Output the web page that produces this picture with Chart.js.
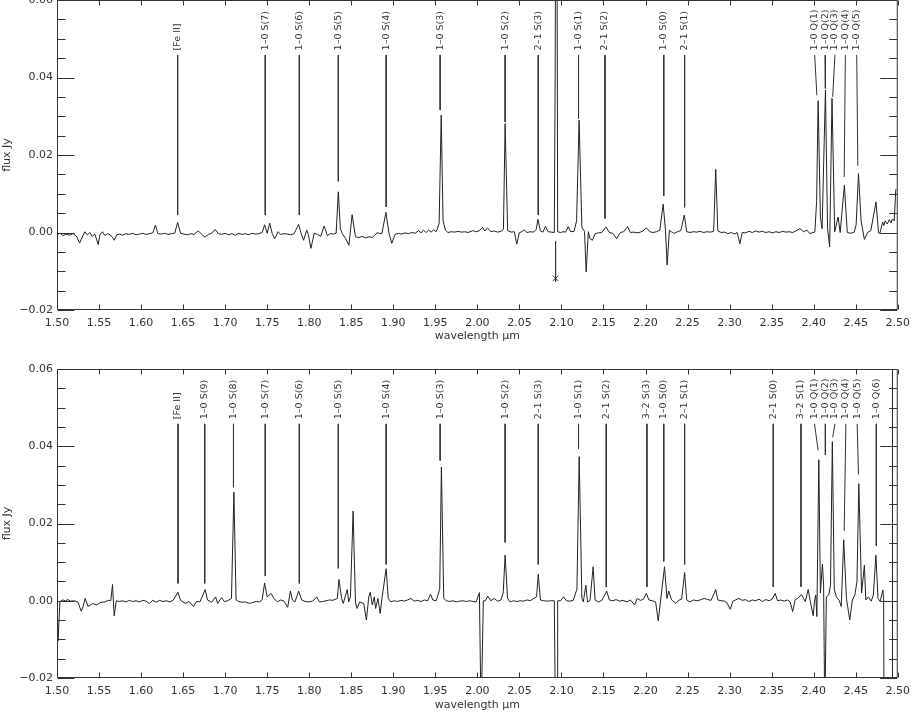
<!DOCTYPE html>
<html>
<head>
<meta charset="utf-8">
<script src="https://cdn.jsdelivr.net/npm/chart.js@4.4.1/dist/chart.umd.min.js"></script>
<style>
  html, body { margin: 0; padding: 0; background: #fff; }
  #wrap { position: relative; width: 917px; height: 712px; overflow: hidden; background: #fff; }
  canvas { position: absolute; left: 0; }
  #top { top: -14px; }
  #bot { top: 355px; }
</style>
</head>
<body>
<div id="wrap">
  <canvas id="top" width="917" height="357"></canvas>
  <canvas id="bot" width="917" height="357"></canvas>
</div>
<script>
// ---------------- axis ranges / tick labels ----------------
const xRange = [1.50, 2.50];
const yRange = [-0.02, 0.06];
const xTickStep = 0.05;
const yTickStep = 0.02;
const yMinorStep = 0.005;
const xTitle = 'wavelength \u03bcm';
const yTitle = 'flux Jy';

// ---------------- upper panel spectrum ----------------
const topWave = [
1.500,1.504,1.507,1.511,1.515,1.519,1.523,1.527,1.530,1.533,1.536,1.539,1.542,1.545,1.549,1.551,1.554,1.557,1.560,1.563,
1.566,1.568,1.571,1.574,1.578,1.582,1.586,1.590,1.594,1.598,1.602,1.606,1.610,1.614,1.617,1.620,1.624,1.628,1.632,1.636,
1.640,1.6435,1.647,1.651,1.655,1.659,1.663,1.668,1.672,1.676,1.680,1.684,1.688,1.692,1.696,1.700,1.704,1.708,1.712,1.716,
1.720,1.724,1.728,1.732,1.736,1.740,1.744,1.747,1.750,1.753,1.756,1.759,1.763,1.766,1.770,1.774,1.778,1.782,1.7874,1.790,
1.7933,1.797,1.799,1.802,1.806,1.810,1.8137,1.8177,1.8216,1.825,1.829,1.832,1.8346,1.837,1.8393,1.8432,1.8472,1.851,1.855,1.859,
1.863,1.867,1.871,1.875,1.8806,1.8864,1.8912,1.895,1.8982,1.9021,1.906,1.910,1.914,1.918,1.922,1.926,1.930,1.933,1.936,1.939,
1.942,1.945,1.948,1.951,1.9545,1.957,1.9592,1.962,1.965,1.969,1.973,1.977,1.981,1.985,1.989,1.9946,1.998,2.002,2.006,2.009,
2.012,2.016,2.020,2.024,2.028,2.031,2.033,2.036,2.040,2.044,2.0468,2.050,2.053,2.0555,2.059,2.063,2.067,2.070,2.072,2.075,
2.078,2.081,2.084,2.088,2.0915,2.0925,2.094,2.0955,2.099,2.102,2.105,2.108,2.111,2.115,2.118,2.121,2.1243,2.1274,2.1294,2.132,
2.134,2.1368,2.140,2.144,2.148,2.153,2.157,2.161,2.1656,2.170,2.174,2.1786,2.182,2.186,2.190,2.194,2.197,2.201,2.205,2.209,
2.213,2.217,2.221,2.2237,2.2257,2.2284,2.232,2.2343,2.238,2.242,2.2461,2.249,2.253,2.257,2.261,2.265,2.269,2.273,2.277,2.281,
2.2835,2.286,2.290,2.294,2.298,2.302,2.306,2.309,2.3122,2.315,2.319,2.323,2.327,2.331,2.335,2.339,2.343,2.347,2.351,2.355,
2.359,2.363,2.367,2.371,2.375,2.379,2.3837,2.388,2.392,2.3955,2.399,2.4014,2.4035,2.4053,2.408,2.410,2.414,2.4165,2.419,2.4218,
2.425,2.429,2.4315,2.4365,2.440,2.444,2.448,2.4505,2.4533,2.4564,2.4603,2.464,2.468,2.4741,2.4772,2.4788,2.482,2.4835,2.485,2.4875,
2.4899,2.492,2.4937,2.4958,2.4976,2.498
];
const topFlux = [
-0.0005,-0.0002,-0.0008,-0.0004,-0.0007,-0.0003,-0.0009,-0.0027,-0.0012,0.0002,-0.0006,0.0000,-0.0010,-0.0004,-0.0031,-0.0006,0.0002,-0.0008,-0.0003,-0.0006,
-0.0012,-0.0020,-0.0006,-0.0004,-0.0007,-0.0003,-0.0005,-0.0002,-0.0006,-0.0004,-0.0002,-0.0005,-0.0003,-0.0001,0.0019,-0.0003,-0.0004,-0.0002,-0.0005,-0.0003,
-0.0002,0.0026,-0.0002,-0.0004,-0.0006,-0.0003,-0.0005,0.0004,-0.0004,-0.0012,-0.0005,-0.0002,0.0008,-0.0003,-0.0005,-0.0002,-0.0006,-0.0003,-0.0007,-0.0002,
-0.0005,-0.0003,-0.0006,-0.0002,-0.0004,-0.0003,0.0000,0.0020,-0.0002,0.0024,-0.0003,-0.0016,0.0002,-0.0005,-0.0003,-0.0004,-0.0006,-0.0003,0.0021,0.0000,
-0.0020,0.0006,-0.0005,-0.0041,-0.0002,-0.0005,-0.0010,0.0017,-0.0008,-0.0003,-0.0004,-0.0002,0.0105,0.0010,-0.0003,-0.0015,-0.0033,0.0046,-0.0011,-0.0013,
-0.0010,-0.0014,-0.0011,-0.0013,-0.0001,-0.0003,0.0052,-0.0003,-0.0028,-0.0005,-0.0002,-0.0004,-0.0001,-0.0003,0.0000,-0.0002,0.0005,-0.0001,0.0006,0.0000,
0.0006,0.0001,0.0007,0.0002,0.0023,0.0303,0.0030,0.0006,0.0000,0.0002,0.0001,0.0003,0.0001,0.0002,0.0000,0.0005,0.0002,0.0004,0.0013,0.0004,
0.0012,0.0002,0.0004,0.0001,0.0003,0.0008,0.0281,0.0005,0.0001,0.0002,-0.0030,0.0000,0.0002,0.0007,0.0000,0.0002,0.0001,0.0008,0.0034,0.0004,
0.0001,0.0016,0.0002,0.0001,0.0000,0.0400,0.1500,0.0002,0.0000,0.0002,0.0001,0.0015,0.0002,0.0003,0.0030,0.0290,0.0013,0.0003,-0.0102,0.0002,
-0.0016,-0.0020,-0.0003,-0.0001,0.0000,0.0014,0.0000,-0.0002,-0.0016,0.0000,0.0002,0.0015,0.0000,0.0001,-0.0001,0.0001,0.0004,0.0012,0.0002,0.0000,
0.0002,0.0006,0.0073,0.0006,-0.0084,0.0006,0.0000,-0.0002,0.0002,0.0005,0.0045,0.0002,0.0000,0.0002,0.0001,0.0003,0.0000,0.0002,0.0001,0.0003,
0.0163,0.0004,0.0000,0.0001,-0.0003,0.0000,-0.0004,0.0000,-0.0029,0.0000,-0.0001,0.0003,0.0000,0.0004,0.0001,0.0003,0.0000,0.0002,-0.0001,0.0002,
0.0000,0.0003,0.0001,0.0002,0.0000,0.0004,0.0010,0.0002,0.0006,-0.0003,0.0000,0.0001,0.0080,0.0340,0.0040,0.0010,0.0367,0.0010,-0.0037,0.0346,
0.0002,0.0040,0.0000,0.0122,0.0000,-0.0002,0.0000,0.0020,0.0152,0.0030,-0.0018,0.0000,0.0005,0.0079,-0.0001,-0.0002,0.0027,0.0018,0.0030,0.0022,
0.0033,0.0025,0.0035,0.0030,0.0109,0.0112
];

// ---------------- lower panel spectrum ----------------
const botWave = [
1.5000,1.5003,1.5012,1.5035,1.507,1.510,1.513,1.516,1.5209,1.525,1.5288,1.531,1.5335,1.537,1.5425,1.547,1.5523,1.557,1.561,1.564,
1.566,1.568,1.5705,1.574,1.578,1.582,1.586,1.590,1.594,1.598,1.602,1.606,1.610,1.614,1.618,1.622,1.626,1.630,1.634,1.638,
1.6439,1.647,1.6526,1.657,1.6624,1.666,1.670,1.6762,1.679,1.684,1.6887,1.691,1.6958,1.699,1.703,1.7075,1.7104,1.713,1.716,1.720,
1.724,1.7293,1.733,1.737,1.741,1.744,1.7469,1.750,1.7547,1.758,1.762,1.766,1.770,1.7744,1.7776,1.780,1.783,1.7874,1.791,1.795,
1.800,1.804,1.809,1.812,1.816,1.820,1.824,1.828,1.8334,1.8354,1.8385,1.8405,1.8432,1.8452,1.847,1.849,1.8522,1.855,1.857,1.860,
1.8648,1.868,1.8708,1.8726,1.875,1.8774,1.879,1.8817,1.8844,1.8865,1.8915,1.894,1.897,1.901,1.905,1.909,1.913,1.917,1.921,1.925,
1.929,1.933,1.937,1.941,1.9442,1.947,1.951,1.9552,1.9572,1.960,1.963,1.967,1.971,1.975,1.979,1.983,1.987,1.991,1.995,1.9985,
2.0024,2.0044,2.0071,2.0095,2.0123,2.016,2.020,2.024,2.028,2.0307,2.033,2.0359,2.039,2.043,2.047,2.051,2.055,2.059,2.063,2.067,
2.0704,2.0724,2.075,2.079,2.083,2.087,2.0915,2.0928,2.0948,2.0955,2.099,2.1026,2.106,2.110,2.114,2.1184,2.1211,2.1243,2.126,2.129,
2.131,2.134,2.1377,2.140,2.144,2.148,2.1538,2.157,2.161,2.165,2.169,2.173,2.178,2.182,2.1871,2.190,2.194,2.1975,2.2009,2.204,
2.208,2.212,2.2151,2.218,2.2226,2.2255,2.2276,2.231,2.2363,2.240,2.243,2.2465,2.249,2.253,2.257,2.261,2.265,2.2697,2.274,2.278,
2.2835,2.286,2.290,2.294,2.297,2.3007,2.304,2.307,2.311,2.315,2.319,2.323,2.327,2.331,2.335,2.339,2.343,2.347,2.3505,2.3542,
2.357,2.361,2.365,2.369,2.372,2.375,2.378,2.381,2.3856,2.388,2.390,2.3935,2.396,2.3994,2.401,2.4025,2.4038,2.4061,2.408,2.4104,
2.4118,2.4132,2.4151,2.418,2.420,2.4222,2.4245,2.427,2.4305,2.4328,2.4357,2.439,2.4429,2.446,2.449,2.4515,2.4537,2.457,2.4603,2.462,
2.465,2.4685,2.471,2.474,2.4765,2.479,2.4823,2.4832,2.4840,2.4932,2.4937,2.5000
];
const botFlux = [
0.0000,-0.0010,-0.0104,-0.0002,0.0002,0.0000,0.0003,-0.0001,0.0000,-0.0004,-0.0027,-0.0015,0.0006,-0.0015,-0.0007,-0.0011,-0.0004,-0.0003,0.0001,0.0000,
0.0042,-0.0039,0.0000,-0.0002,0.0000,-0.0003,0.0001,-0.0002,0.0000,-0.0003,0.0001,-0.0001,-0.0007,0.0001,-0.0004,0.0001,-0.0002,0.0000,-0.0003,0.0001,
0.0022,0.0001,-0.0007,-0.0002,-0.0015,-0.0002,-0.0003,0.0029,0.0002,-0.0004,0.0010,-0.0007,0.0008,-0.0002,0.0000,0.0006,0.0281,0.0002,-0.0002,-0.0004,
-0.0003,-0.0007,-0.0004,-0.0002,-0.0003,0.0002,0.0046,0.0010,0.0019,0.0006,-0.0003,0.0002,-0.0001,-0.0017,0.0025,0.0002,-0.0003,0.0025,0.0002,-0.0002,
-0.0003,-0.0001,0.0010,-0.0003,-0.0002,0.0000,0.0002,0.0001,0.0006,0.0055,0.0006,-0.0007,0.0014,0.0029,-0.0003,0.0010,0.0232,-0.0005,-0.0020,-0.0003,
-0.0007,-0.0050,0.0010,0.0022,-0.0011,0.0010,-0.0020,0.0006,-0.0033,0.0006,0.0083,0.0006,-0.0003,0.0000,-0.0002,0.0001,-0.0001,0.0002,0.0006,-0.0001,
0.0001,-0.0002,0.0002,0.0000,0.0017,0.0002,0.0000,0.0030,0.0346,0.0006,0.0000,-0.0002,0.0000,-0.0003,-0.0001,0.0000,-0.0002,0.0000,-0.0002,-0.0003,
0.0021,-0.0300,0.0000,0.0000,0.0012,0.0000,0.0006,-0.0001,0.0002,0.0020,0.0118,0.0006,-0.0003,0.0000,-0.0002,0.0000,-0.0001,0.0002,0.0000,0.0006,
0.0010,0.0069,0.0002,0.0000,-0.0001,0.0000,0.0000,-0.0300,-0.0300,0.0000,0.0000,0.0010,0.0000,-0.0001,0.0001,0.0030,0.0373,0.0006,-0.0003,0.0040,
-0.0003,0.0001,0.0088,0.0002,-0.0003,0.0001,0.0025,0.0002,0.0000,0.0003,-0.0001,0.0001,-0.0003,0.0002,-0.0011,0.0006,0.0001,0.0004,0.0019,0.0002,
0.0000,-0.0003,-0.0052,0.0002,0.0088,0.0006,0.0025,0.0002,-0.0007,0.0002,0.0004,0.0073,0.0002,-0.0003,0.0002,0.0000,0.0002,0.0006,0.0003,0.0001,
0.0029,0.0002,0.0000,-0.0001,-0.0006,-0.0022,-0.0001,0.0002,0.0006,0.0001,0.0003,-0.0002,0.0002,0.0000,0.0004,-0.0002,0.0003,0.0000,0.0004,0.0019,
0.0000,0.0002,-0.0001,0.0002,-0.0003,-0.0028,0.0003,0.0006,0.0016,0.0006,-0.0002,0.0029,-0.0002,-0.0039,0.0000,0.0015,-0.0041,0.0365,0.0020,0.0095,
0.0040,-0.0300,0.0010,0.0015,0.0040,0.0412,0.0030,0.0010,0.0000,-0.0015,0.0158,0.0006,-0.0050,0.0002,0.0015,0.0050,0.0303,0.0020,0.0092,0.0002,
0.0010,-0.0001,0.0015,0.0118,0.0006,-0.0002,0.0028,0.0002,-0.0500,-0.0500,0.1000,0.1000
];

// ---------------- line identifications ----------------
// [text, wavelength of label, wavelength where the marker line ends, flux where it ends]
const labelTextFlux = 0.0470;   // flux at which the (upward) label text starts
const labelLineTop = 0.0458;    // flux at which the marker lines start
const topLines = [
  ['[Fe II]',   1.6435, 1.6435, 0.0045],
  ['1\u20130 S(7)', 1.7477, 1.7477, 0.0045],
  ['1\u20130 S(6)', 1.7882, 1.7882, 0.0045],
  ['1\u20130 S(5)', 1.8346, 1.8346, 0.0132],
  ['1\u20130 S(4)', 1.8915, 1.8915, 0.0066],
  ['1\u20130 S(3)', 1.9557, 1.9557, 0.0316],
  ['1\u20130 S(2)', 2.0330, 2.0330, 0.0285],
  ['2\u20131 S(3)', 2.0724, 2.0724, 0.0045],
  ['1\u20130 S(1)', 2.1203, 2.1203, 0.0294],
  ['2\u20131 S(2)', 2.1518, 2.1518, 0.0036],
  ['1\u20130 S(0)', 2.2217, 2.2217, 0.0095],
  ['2\u20131 S(1)', 2.2465, 2.2465, 0.0065],
  ['1\u20130 Q(1)', 2.4012, 2.4038, 0.0354],
  ['1\u20130 Q(2)', 2.4136, 2.4139, 0.0372],
  ['1\u20130 Q(3)', 2.4253, 2.4226, 0.0350],
  ['1\u20130 Q(4)', 2.4377, 2.4363, 0.0143],
  ['1\u20130 Q(5)', 2.4512, 2.4525, 0.0172]
];
const botLines = [
  ['[Fe II]',   1.6439, 1.6439, 0.0045],
  ['1\u20130 S(9)', 1.6757, 1.6757, 0.0045],
  ['1\u20130 S(8)', 1.7099, 1.7099, 0.0294],
  ['1\u20130 S(7)', 1.7477, 1.7477, 0.0064],
  ['1\u20130 S(6)', 1.7882, 1.7882, 0.0045],
  ['1\u20130 S(5)', 1.8346, 1.8346, 0.0084],
  ['1\u20130 S(4)', 1.8915, 1.8915, 0.0094],
  ['1\u20130 S(3)', 1.9557, 1.9557, 0.0363],
  ['1\u20130 S(2)', 2.0330, 2.0330, 0.0151],
  ['2\u20131 S(3)', 2.0724, 2.0724, 0.0094],
  ['1\u20130 S(1)', 2.1203, 2.1203, 0.0393],
  ['2\u20131 S(2)', 2.1533, 2.1533, 0.0036],
  ['3\u20132 S(3)', 2.2017, 2.2017, 0.0036],
  ['1\u20130 S(0)', 2.2217, 2.2217, 0.0102],
  ['2\u20131 S(1)', 2.2465, 2.2465, 0.0094],
  ['2\u20131 S(0)', 2.3519, 2.3519, 0.0036],
  ['3\u20132 S(1)', 2.3849, 2.3849, 0.0036],
  ['1\u20130 Q(1)', 2.4010, 2.4053, 0.0389],
  ['1\u20130 Q(2)', 2.4139, 2.4139, 0.0378],
  ['1\u20130 Q(3)', 2.4253, 2.4226, 0.0423],
  ['1\u20130 Q(4)', 2.4383, 2.4363, 0.0181],
  ['1\u20130 Q(5)', 2.4517, 2.4533, 0.0327],
  ['1\u20130 Q(6)', 2.4745, 2.4745, 0.0142]
];

// asterisk marker in the upper panel: [wavelength, flux of marker, flux where its stem starts]
const topStar = [2.093, -0.0118, -0.0022, -0.0127];

// ---------------- drawing ----------------
const INK = '#333';
const FONT = 'DejaVu Sans';
Chart.defaults.font.family = FONT;

function fmt(v) {
  if (Math.abs(v) < 1e-9) return '0.00';
  const s = v.toFixed(2);
  return s.replace('-', '\u2212');
}

const framePlugin = {
  id: 'frameTicks',
  afterDatasetsDraw(chart) {
    const { ctx, chartArea: a, scales: { x, y } } = chart;
    ctx.save();
    ctx.strokeStyle = INK;
    ctx.lineWidth = 1;
    const L = a.left + 0.5, R = a.right - 0.5, T = a.top + 0.5, B = a.bottom - 0.5;
    ctx.beginPath();
    ctx.rect(L, T, R - L, B - T);
    // x ticks, inward on bottom and top
    x.ticks.forEach(t => {
      const px = Math.round(x.getPixelForValue(t.value)) + 0.5;
      ctx.moveTo(px, B); ctx.lineTo(px, B - 5);
      ctx.moveTo(px, T); ctx.lineTo(px, T + 5);
    });
    // y ticks, inward on left and right (major every 0.02, minor every 0.005)
    const n = Math.round((yRange[1] - yRange[0]) / yMinorStep);
    const per = Math.round(yTickStep / yMinorStep);
    for (let i = 0; i <= n; i++) {
      const v = yRange[0] + i * yMinorStep;
      const py = Math.round(y.getPixelForValue(v)) + 0.5;
      const len = (i % per === 0) ? 17 : 8;
      ctx.moveTo(L, py); ctx.lineTo(L + len, py);
      ctx.moveTo(R, py); ctx.lineTo(R - len, py);
    }
    ctx.stroke();

    // line identification labels
    const ids = chart.options.plugins.frameTicks.labels || [];
    ctx.fillStyle = INK;
    ctx.font = '9.5px "' + FONT + '"';
    ctx.textAlign = 'left';
    ctx.textBaseline = 'middle';
    ids.forEach(l => {
      const px = x.getPixelForValue(l[1]);
      const py = y.getPixelForValue(labelTextFlux);
      ctx.save();
      ctx.translate(px, py);
      ctx.rotate(-Math.PI / 2);
      ctx.fillText(l[0], 0, 0);
      ctx.restore();
    });
    ctx.restore();
  }
};

function makeChart(id, wave, flux, ids, plotH, extra) {
  const spec = wave.map((w, i) => ({ x: w, y: flux[i] }));
  const marks = [];
  ids.forEach(l => {
    marks.push({ x: l[1], y: labelLineTop });
    marks.push({ x: l[2], y: l[3] });
    marks.push({ x: l[2], y: null });
  });
  const datasets = [
    { data: spec, borderColor: '#222', borderWidth: 1, pointRadius: 0, tension: 0, fill: false },
    { data: marks, borderColor: INK, borderWidth: 1, pointRadius: 0, tension: 0, fill: false, spanGaps: false }
  ].concat(extra || []);
  const fontObj = { family: FONT, size: 11 };
  return new Chart(document.getElementById(id), {
    type: 'line',
    data: { datasets },
    options: {
      responsive: false,
      animation: false,
      devicePixelRatio: 1,
      parsing: false,
      layout: { padding: { top: 14, right: 12, left: 0, bottom: 0 } },
      plugins: {
        legend: { display: false },
        tooltip: { enabled: false },
        frameTicks: { labels: ids }
      },
      scales: {
        x: {
          type: 'linear', min: xRange[0], max: xRange[1],
          grid: { display: false, drawTicks: false },
          border: { display: false },
          ticks: {
            stepSize: xTickStep, autoSkip: false, maxRotation: 0, minRotation: 0,
            padding: 7, color: INK, font: fontObj,
            callback: v => fmt(v)
          },
          title: { display: true, text: xTitle, color: INK, font: fontObj, padding: { top: 0, bottom: 0 } },
          afterFit(s) { s.height = 357 - 14 - plotH; }
        },
        y: {
          type: 'linear', min: yRange[0], max: yRange[1],
          grid: { display: false, drawTicks: false },
          border: { display: false },
          ticks: { stepSize: yTickStep, padding: 4, color: INK, font: fontObj, callback: v => fmt(v) },
          title: { display: true, text: yTitle, color: INK, font: fontObj, padding: { top: 0.6, bottom: 0 } },
          afterFit(s) { s.width = 57; }
        }
      }
    },
    plugins: [framePlugin]
  });
}

const starSets = [
  { data: [{ x: topStar[0], y: topStar[2] }, { x: topStar[0], y: topStar[3] }],
    borderColor: INK, borderWidth: 1, pointRadius: 0, fill: false },
  { type: 'scatter', data: [{ x: topStar[0], y: topStar[1] }], showLine: false,
    pointStyle: 'crossRot', pointRadius: 4, borderColor: INK, borderWidth: 1, backgroundColor: INK }
];

makeChart('top', topWave, topFlux, topLines, 310, starSets);
makeChart('bot', botWave, botFlux, botLines, 309, []);
</script>
</body>
</html>
